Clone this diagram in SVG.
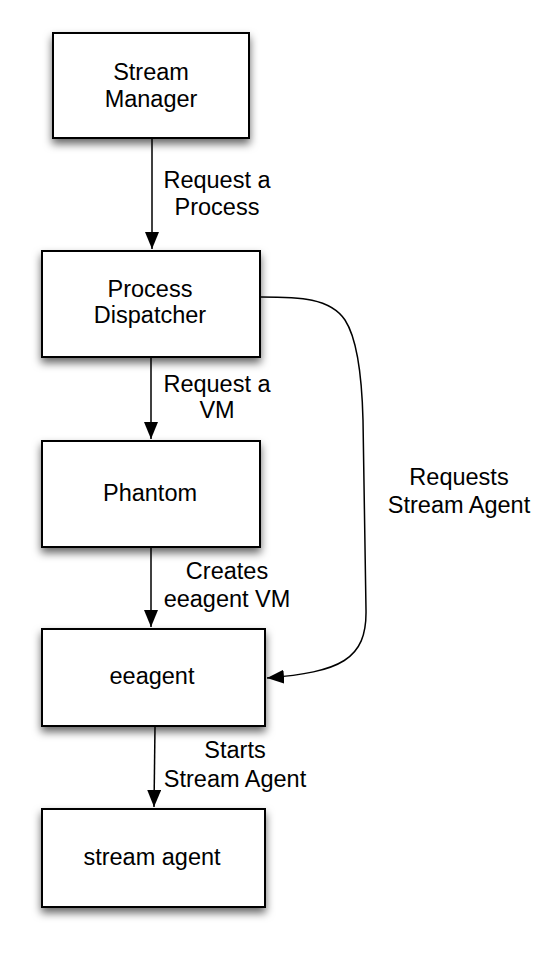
<svg xmlns="http://www.w3.org/2000/svg" width="550" height="954" viewBox="0 0 550 954">
<style>
.box{fill:#fff;stroke:#000;stroke-width:2;filter:url(#sh)}
.t{font-family:"Liberation Sans",Arial,sans-serif;font-size:23.5px;fill:#000;text-anchor:middle}
.c{fill:none;stroke:#000;stroke-width:1.5}
</style>
<defs>
<filter id="sh" x="-20%" y="-20%" width="140%" height="150%">
<feDropShadow dx="0" dy="5" stdDeviation="4" flood-color="#000" flood-opacity="0.6"/>
</filter>
<marker id="ah" markerUnits="userSpaceOnUse" markerWidth="20" markerHeight="16" refX="17" refY="7" orient="auto">
<path d="M0,0 L17,7 L0,14 z" fill="#000"/>
</marker>
</defs>
<g id="connectors">
<line class="c" x1="152" y1="139" x2="152" y2="249" marker-end="url(#ah)"/>
<line class="c" x1="151" y1="358" x2="151" y2="439" marker-end="url(#ah)"/>
<line class="c" x1="151" y1="548" x2="151" y2="627" marker-end="url(#ah)"/>
<line class="c" x1="155" y1="727" x2="154" y2="807" marker-end="url(#ah)"/>
<path class="c" d="M261,297 C300,297 330,298 345,320 C358,340 362,380 363,420 L366,610 C367,660 340,672 267,678" marker-end="url(#ah)"/>
<text class="t" x="217" y="188">Request a</text>
<text class="t" x="217" y="215">Process</text>
<text class="t" x="217" y="392">Request a</text>
<text class="t" x="217" y="418">VM</text>
<text class="t" x="227" y="579">Creates</text>
<text class="t" x="227" y="607">eeagent VM</text>
<text class="t" x="235" y="758">Starts</text>
<text class="t" x="235" y="787">Stream Agent</text>
<text class="t" x="459" y="485">Requests</text>
<text class="t" x="459" y="513">Stream Agent</text>
</g>
<g id="stream-manager">
<rect class="box" x="53" y="33" width="196" height="105"/>
<text class="t" x="151" y="80">Stream</text>
<text class="t" x="151" y="107">Manager</text>
</g>
<g id="process-dispatcher">
<rect class="box" x="42" y="251" width="218" height="106"/>
<text class="t" x="150" y="297">Process</text>
<text class="t" x="150" y="323">Dispatcher</text>
</g>
<g id="phantom">
<rect class="box" x="42" y="441" width="218" height="106"/>
<text class="t" x="150" y="501">Phantom</text>
</g>
<g id="eeagent">
<rect class="box" x="42" y="629" width="223" height="97"/>
<text class="t" x="152" y="684">eeagent</text>
</g>
<g id="stream-agent">
<rect class="box" x="42" y="809" width="223" height="98"/>
<text class="t" x="152" y="865">stream agent</text>
</g>
</svg>
